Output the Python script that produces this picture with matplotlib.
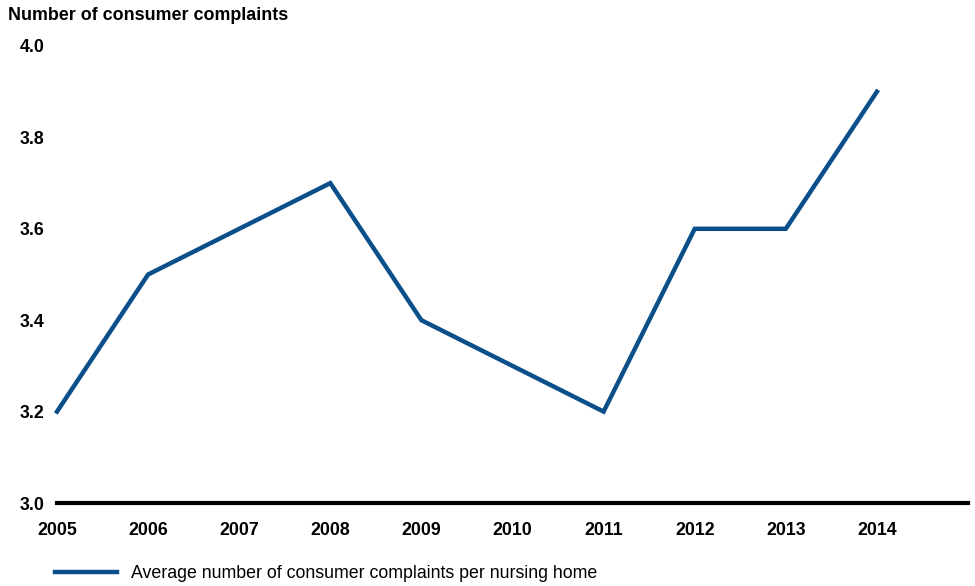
import matplotlib.pyplot as plt
from matplotlib.lines import Line2D

plt.rcParams['font.family'] = ['Liberation Sans', 'DejaVu Sans']

years = [2005, 2006, 2007, 2008, 2009, 2010, 2011, 2012, 2013, 2014]
complaints = [3.2, 3.5, 3.6, 3.7, 3.4, 3.3, 3.2, 3.6, 3.6, 3.9]
yticks = [3.0, 3.2, 3.4, 3.6, 3.8, 4.0]

blue = '#0B4F8A'

fig = plt.figure(figsize=(9.75, 5.86), dpi=100)
ax = fig.add_axes([57/975, 1 - 503/586, (968 - 57)/975, (503 - 46)/586])

ax.plot(years, complaints, color=blue, lw=3.2, solid_joinstyle='miter', clip_on=False)

ax.set_xlim(2005, 2015)
ax.set_ylim(3.0, 4.0)
ax.set_xticks(years)
ax.set_xticklabels([str(y) for y in years], fontsize=12.8, fontweight='bold')
ax.set_yticks(yticks)
ax.set_yticklabels([f'{v:.1f}' for v in yticks], fontsize=12.8, fontweight='bold')
ax.tick_params(length=0, pad=9, axis='y')
ax.tick_params(length=0, pad=14, axis='x')

for s in ['top', 'right', 'left']:
    ax.spines[s].set_visible(False)
ax.spines['bottom'].set_linewidth(3)
ax.spines['bottom'].set_color('black')

fig.text(8/975, 1 - 16/586, 'Number of consumer complaints', fontsize=12.9,
         fontweight='bold', va='center', ha='left')

handle = Line2D([], [], color=blue, lw=3.2)
fig.legend([handle], ['Average number of consumer complaints per nursing home'],
           loc='center left', bbox_to_anchor=(39/975, 1 - 574/586), frameon=False,
           fontsize=12.8, handlelength=3.5, handletextpad=0.8)

fig.savefig('out.png', dpi=100)
